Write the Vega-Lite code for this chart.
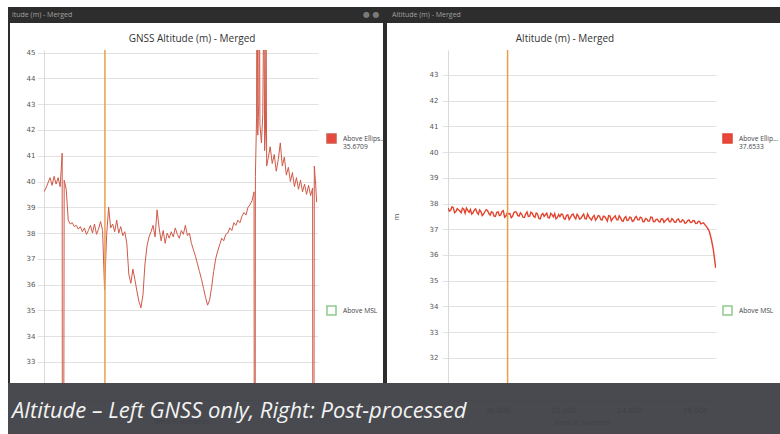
{
  "$schema": "https://vega.github.io/schema/vega-lite/v6.json",
  "padding": {"left": 8, "top": 7, "right": 0, "bottom": 0},
  "background": "white",
  "bounds": "flush",
  "spacing": 0,
  "columns": 8,
  "align": "each",
  "resolve": {"scale": {"color": "independent", "x": "independent", "y": "independent"}, "legend": {"color": "independent"}},
  "config": {"view": {"stroke": null}, "concat": {"spacing": 0}},
  "datasets": {
    "left": [
      {"t":18500,"a":39.6,"s":"E"},{"t":18560,"a":39.75,"s":"E"},{"t":18620,"a":39.95,"s":"E"},{"t":18680,"a":40.15,"s":"E"},{"t":18740,"a":39.85,"s":"E"},{"t":18800,"a":40.2,"s":"E"},{"t":18860,"a":39.9,"s":"E"},{"t":18920,"a":40.15,"s":"E"},{"t":18980,"a":39.8,"s":"E"},{"t":19040,"a":41.1,"s":"E"},{"t":19055,"a":5,"s":"E"},{"t":19100,"a":40.05,"s":"E"},{"t":19160,"a":39.7,"s":"E"},{"t":19220,"a":38.5,"s":"E"},{"t":19280,"a":38.35,"s":"E"},{"t":19340,"a":38.4,"s":"E"},{"t":19400,"a":38.25,"s":"E"},{"t":19460,"a":38.3,"s":"E"},{"t":19520,"a":38.15,"s":"E"},{"t":19580,"a":38.25,"s":"E"},{"t":19640,"a":38.05,"s":"E"},{"t":19700,"a":38.2,"s":"E"},{"t":19760,"a":37.95,"s":"E"},{"t":19820,"a":38.1,"s":"E"},{"t":19880,"a":38.3,"s":"E"},{"t":19940,"a":38.0,"s":"E"},{"t":20000,"a":38.35,"s":"E"},{"t":20060,"a":37.95,"s":"E"},{"t":20120,"a":38.15,"s":"E"},{"t":20180,"a":38.45,"s":"E"},{"t":20240,"a":38.1,"s":"E"},{"t":20300,"a":35.8,"s":"E"},{"t":20360,"a":37.9,"s":"E"},{"t":20420,"a":39.0,"s":"E"},{"t":20480,"a":38.2,"s":"E"},{"t":20540,"a":38.35,"s":"E"},{"t":20600,"a":38.05,"s":"E"},{"t":20660,"a":38.5,"s":"E"},{"t":20720,"a":38.0,"s":"E"},{"t":20780,"a":38.25,"s":"E"},{"t":20840,"a":37.9,"s":"E"},{"t":20900,"a":38.05,"s":"E"},{"t":20960,"a":37.6,"s":"E"},{"t":21020,"a":36.4,"s":"E"},{"t":21080,"a":36.05,"s":"E"},{"t":21140,"a":36.6,"s":"E"},{"t":21200,"a":36.2,"s":"E"},{"t":21260,"a":35.75,"s":"E"},{"t":21320,"a":35.35,"s":"E"},{"t":21380,"a":35.1,"s":"E"},{"t":21440,"a":35.6,"s":"E"},{"t":21500,"a":36.8,"s":"E"},{"t":21560,"a":37.5,"s":"E"},{"t":21620,"a":37.85,"s":"E"},{"t":21680,"a":38.05,"s":"E"},{"t":21740,"a":38.3,"s":"E"},{"t":21800,"a":37.85,"s":"E"},{"t":21860,"a":38.9,"s":"E"},{"t":21920,"a":38.2,"s":"E"},{"t":21980,"a":37.7,"s":"E"},{"t":22040,"a":38.1,"s":"E"},{"t":22100,"a":37.6,"s":"E"},{"t":22160,"a":38.0,"s":"E"},{"t":22220,"a":37.8,"s":"E"},{"t":22280,"a":38.05,"s":"E"},{"t":22340,"a":37.85,"s":"E"},{"t":22400,"a":38.2,"s":"E"},{"t":22460,"a":37.95,"s":"E"},{"t":22520,"a":37.8,"s":"E"},{"t":22580,"a":38.1,"s":"E"},{"t":22640,"a":37.95,"s":"E"},{"t":22700,"a":38.3,"s":"E"},{"t":22760,"a":37.9,"s":"E"},{"t":22820,"a":38.0,"s":"E"},{"t":22880,"a":37.6,"s":"E"},{"t":22940,"a":37.35,"s":"E"},{"t":23000,"a":37.1,"s":"E"},{"t":23060,"a":36.8,"s":"E"},{"t":23120,"a":36.5,"s":"E"},{"t":23180,"a":36.2,"s":"E"},{"t":23240,"a":35.85,"s":"E"},{"t":23300,"a":35.5,"s":"E"},{"t":23360,"a":35.2,"s":"E"},{"t":23420,"a":35.4,"s":"E"},{"t":23480,"a":35.9,"s":"E"},{"t":23540,"a":36.5,"s":"E"},{"t":23600,"a":37.0,"s":"E"},{"t":23660,"a":37.3,"s":"E"},{"t":23720,"a":37.55,"s":"E"},{"t":23780,"a":37.8,"s":"E"},{"t":23840,"a":37.7,"s":"E"},{"t":23900,"a":37.95,"s":"E"},{"t":23960,"a":38.0,"s":"E"},{"t":24020,"a":38.2,"s":"E"},{"t":24080,"a":38.1,"s":"E"},{"t":24140,"a":38.4,"s":"E"},{"t":24200,"a":38.3,"s":"E"},{"t":24260,"a":38.5,"s":"E"},{"t":24320,"a":38.4,"s":"E"},{"t":24380,"a":38.65,"s":"E"},{"t":24440,"a":38.8,"s":"E"},{"t":24500,"a":38.7,"s":"E"},{"t":24560,"a":39.0,"s":"E"},{"t":24620,"a":39.1,"s":"E"},{"t":24680,"a":39.25,"s":"E"},{"t":24740,"a":39.6,"s":"E"},{"t":24760,"a":8,"s":"E"},{"t":24780,"a":40.2,"s":"E"},{"t":24815,"a":42.5,"s":"E"},{"t":24830,"a":52,"s":"E"},{"t":24850,"a":41.8,"s":"E"},{"t":24880,"a":43.0,"s":"E"},{"t":24895,"a":50,"s":"E"},{"t":24915,"a":42.2,"s":"E"},{"t":24960,"a":41.5,"s":"E"},{"t":25000,"a":42.6,"s":"E"},{"t":25035,"a":48,"s":"E"},{"t":25055,"a":41.2,"s":"E"},{"t":25080,"a":42.0,"s":"E"},{"t":25095,"a":47,"s":"E"},{"t":25115,"a":40.6,"s":"E"},{"t":25160,"a":40.9,"s":"E"},{"t":25220,"a":41.35,"s":"E"},{"t":25280,"a":40.7,"s":"E"},{"t":25340,"a":41.05,"s":"E"},{"t":25400,"a":40.4,"s":"E"},{"t":25460,"a":40.85,"s":"E"},{"t":25520,"a":41.5,"s":"E"},{"t":25580,"a":40.6,"s":"E"},{"t":25640,"a":40.95,"s":"E"},{"t":25700,"a":40.25,"s":"E"},{"t":25760,"a":40.55,"s":"E"},{"t":25820,"a":40.0,"s":"E"},{"t":25880,"a":40.35,"s":"E"},{"t":25940,"a":39.8,"s":"E"},{"t":26000,"a":40.15,"s":"E"},{"t":26060,"a":39.7,"s":"E"},{"t":26120,"a":40.05,"s":"E"},{"t":26180,"a":39.6,"s":"E"},{"t":26240,"a":39.9,"s":"E"},{"t":26300,"a":39.5,"s":"E"},{"t":26360,"a":39.85,"s":"E"},{"t":26420,"a":39.45,"s":"E"},{"t":26480,"a":39.75,"s":"E"},{"t":26500,"a":5,"s":"E"},{"t":26530,"a":40.6,"s":"E"},{"t":26570,"a":39.9,"s":"E"},{"t":26600,"a":39.2,"s":"E"}
    ],
    "right": [
      {"t":18500,"a":37.83,"s":"E"},{"t":18580,"a":37.74,"s":"E"},{"t":18660,"a":37.84,"s":"E"},{"t":18740,"a":37.69,"s":"E"},{"t":18820,"a":37.76,"s":"E"},{"t":18900,"a":37.64,"s":"E"},{"t":18980,"a":37.78,"s":"E"},{"t":19060,"a":37.82,"s":"E"},{"t":19140,"a":37.66,"s":"E"},{"t":19220,"a":37.59,"s":"E"},{"t":19300,"a":37.75,"s":"E"},{"t":19380,"a":37.65,"s":"E"},{"t":19460,"a":37.75,"s":"E"},{"t":19540,"a":37.53,"s":"E"},{"t":19620,"a":37.68,"s":"E"},{"t":19700,"a":37.73,"s":"E"},{"t":19780,"a":37.55,"s":"E"},{"t":19860,"a":37.65,"s":"E"},{"t":19940,"a":37.5,"s":"E"},{"t":20020,"a":37.68,"s":"E"},{"t":20100,"a":37.55,"s":"E"},{"t":20180,"a":37.72,"s":"E"},{"t":20260,"a":37.51,"s":"E"},{"t":20340,"a":37.6,"s":"E"},{"t":20420,"a":37.45,"s":"E"},{"t":20500,"a":37.64,"s":"E"},{"t":20580,"a":37.66,"s":"E"},{"t":20660,"a":37.51,"s":"E"},{"t":20740,"a":37.58,"s":"E"},{"t":20820,"a":37.46,"s":"E"},{"t":20900,"a":37.67,"s":"E"},{"t":20980,"a":37.51,"s":"E"},{"t":21060,"a":37.62,"s":"E"},{"t":21140,"a":37.46,"s":"E"},{"t":21220,"a":37.59,"s":"E"},{"t":21300,"a":37.4,"s":"E"},{"t":21380,"a":37.61,"s":"E"},{"t":21460,"a":37.56,"s":"E"},{"t":21540,"a":37.45,"s":"E"},{"t":21620,"a":37.62,"s":"E"},{"t":21700,"a":37.48,"s":"E"},{"t":21780,"a":37.4,"s":"E"},{"t":21860,"a":37.57,"s":"E"},{"t":21940,"a":37.59,"s":"E"},{"t":22020,"a":37.42,"s":"E"},{"t":22100,"a":37.54,"s":"E"},{"t":22180,"a":37.38,"s":"E"},{"t":22260,"a":37.56,"s":"E"},{"t":22340,"a":37.47,"s":"E"},{"t":22420,"a":37.58,"s":"E"},{"t":22500,"a":37.39,"s":"E"},{"t":22580,"a":37.52,"s":"E"},{"t":22660,"a":37.41,"s":"E"},{"t":22740,"a":37.59,"s":"E"},{"t":22820,"a":37.42,"s":"E"},{"t":22900,"a":37.48,"s":"E"},{"t":22980,"a":37.35,"s":"E"},{"t":23060,"a":37.53,"s":"E"},{"t":23140,"a":37.38,"s":"E"},{"t":23220,"a":37.51,"s":"E"},{"t":23300,"a":37.41,"s":"E"},{"t":23380,"a":37.53,"s":"E"},{"t":23460,"a":37.32,"s":"E"},{"t":23540,"a":37.47,"s":"E"},{"t":23620,"a":37.37,"s":"E"},{"t":23700,"a":37.52,"s":"E"},{"t":23780,"a":37.33,"s":"E"},{"t":23860,"a":37.44,"s":"E"},{"t":23940,"a":37.34,"s":"E"},{"t":24020,"a":37.47,"s":"E"},{"t":24100,"a":37.3,"s":"E"},{"t":24180,"a":37.45,"s":"E"},{"t":24260,"a":37.37,"s":"E"},{"t":24340,"a":37.47,"s":"E"},{"t":24420,"a":37.29,"s":"E"},{"t":24500,"a":37.42,"s":"E"},{"t":24580,"a":37.31,"s":"E"},{"t":24660,"a":37.47,"s":"E"},{"t":24740,"a":37.29,"s":"E"},{"t":24820,"a":37.38,"s":"E"},{"t":24900,"a":37.3,"s":"E"},{"t":24980,"a":37.41,"s":"E"},{"t":25060,"a":37.27,"s":"E"},{"t":25140,"a":37.38,"s":"E"},{"t":25220,"a":37.3,"s":"E"},{"t":25300,"a":37.41,"s":"E"},{"t":25380,"a":37.27,"s":"E"},{"t":25460,"a":37.38,"s":"E"},{"t":25540,"a":37.29,"s":"E"},{"t":25620,"a":37.37,"s":"E"},{"t":25700,"a":37.23,"s":"E"},{"t":25780,"a":37.34,"s":"E"},{"t":25860,"a":37.27,"s":"E"},{"t":25940,"a":37.34,"s":"E"},{"t":26020,"a":37.22,"s":"E"},{"t":26100,"a":37.3,"s":"E"},{"t":26180,"a":37.21,"s":"E"},{"t":26260,"a":37.25,"s":"E"},{"t":26320,"a":37.15,"s":"E"},{"t":26380,"a":37.05,"s":"E"},{"t":26440,"a":36.9,"s":"E"},{"t":26500,"a":36.6,"s":"E"},{"t":26560,"a":36.2,"s":"E"},{"t":26600,"a":35.8,"s":"E"},{"t":26630,"a":35.5,"s":"E"},
      {"t":18540,"a":37.7,"s":"E"},{"t":18620,"a":37.87,"s":"E"},{"t":18700,"a":37.64,"s":"E"},{"t":18780,"a":37.8,"s":"E"},{"t":18860,"a":37.71,"s":"E"},{"t":18940,"a":37.82,"s":"E"},{"t":19020,"a":37.62,"s":"E"},{"t":19100,"a":37.73,"s":"E"},{"t":19180,"a":37.77,"s":"E"},{"t":19260,"a":37.64,"s":"E"},{"t":19340,"a":37.79,"s":"E"},{"t":19420,"a":37.58,"s":"E"},{"t":19500,"a":37.69,"s":"E"},{"t":19580,"a":37.59,"s":"E"},{"t":19660,"a":37.76,"s":"E"},{"t":19740,"a":37.61,"s":"E"},{"t":19820,"a":37.68,"s":"E"},{"t":19900,"a":37.51,"s":"E"},{"t":19980,"a":37.65,"s":"E"},{"t":20060,"a":37.53,"s":"E"},{"t":20140,"a":37.69,"s":"E"},{"t":20220,"a":37.47,"s":"E"},{"t":20300,"a":37.64,"s":"E"},{"t":20380,"a":37.61,"s":"E"},{"t":20460,"a":37.5,"s":"E"},{"t":20540,"a":37.68,"s":"E"},{"t":20620,"a":37.53,"s":"E"},{"t":20700,"a":37.64,"s":"E"},{"t":20780,"a":37.46,"s":"E"},{"t":20860,"a":37.59,"s":"E"},{"t":20940,"a":37.5,"s":"E"},{"t":21020,"a":37.66,"s":"E"},{"t":21100,"a":37.5,"s":"E"},{"t":21180,"a":37.63,"s":"E"},{"t":21260,"a":37.42,"s":"E"},{"t":21340,"a":37.56,"s":"E"},{"t":21420,"a":37.5,"s":"E"},{"t":21500,"a":37.62,"s":"E"},{"t":21580,"a":37.44,"s":"E"},{"t":21660,"a":37.57,"s":"E"},{"t":21740,"a":37.61,"s":"E"},{"t":21820,"a":37.45,"s":"E"},{"t":21900,"a":37.49,"s":"E"},{"t":21980,"a":37.58,"s":"E"},{"t":22060,"a":37.39,"s":"E"},{"t":22140,"a":37.56,"s":"E"},{"t":22220,"a":37.46,"s":"E"},{"t":22300,"a":37.59,"s":"E"},{"t":22380,"a":37.4,"s":"E"},{"t":22460,"a":37.51,"s":"E"},{"t":22540,"a":37.43,"s":"E"},{"t":22620,"a":37.59,"s":"E"},{"t":22700,"a":37.4,"s":"E"},{"t":22780,"a":37.48,"s":"E"},{"t":22860,"a":37.36,"s":"E"},{"t":22940,"a":37.54,"s":"E"},{"t":23020,"a":37.42,"s":"E"},{"t":23100,"a":37.51,"s":"E"},{"t":23180,"a":37.36,"s":"E"},{"t":23260,"a":37.49,"s":"E"},{"t":23340,"a":37.32,"s":"E"},{"t":23420,"a":37.51,"s":"E"},{"t":23500,"a":37.41,"s":"E"},{"t":23580,"a":37.52,"s":"E"},{"t":23660,"a":37.36,"s":"E"},{"t":23740,"a":37.45,"s":"E"},{"t":23820,"a":37.31,"s":"E"},{"t":23900,"a":37.49,"s":"E"},{"t":23980,"a":37.36,"s":"E"},{"t":24060,"a":37.45,"s":"E"},{"t":24140,"a":37.33,"s":"E"},{"t":24220,"a":37.5,"s":"E"},{"t":24300,"a":37.36,"s":"E"},{"t":24380,"a":37.45,"s":"E"},{"t":24460,"a":37.3,"s":"E"},{"t":24540,"a":37.4,"s":"E"},{"t":24620,"a":37.32,"s":"E"},{"t":24700,"a":37.46,"s":"E"},{"t":24780,"a":37.3,"s":"E"},{"t":24860,"a":37.39,"s":"E"},{"t":24940,"a":37.28,"s":"E"},{"t":25020,"a":37.4,"s":"E"},{"t":25100,"a":37.33,"s":"E"},{"t":25180,"a":37.43,"s":"E"},{"t":25260,"a":37.29,"s":"E"},{"t":25340,"a":37.37,"s":"E"},{"t":25420,"a":37.27,"s":"E"},{"t":25500,"a":37.4,"s":"E"},{"t":25580,"a":37.28,"s":"E"},{"t":25660,"a":37.33,"s":"E"},{"t":25740,"a":37.25,"s":"E"},{"t":25820,"a":37.36,"s":"E"},{"t":25900,"a":37.26,"s":"E"},{"t":25980,"a":37.33,"s":"E"},{"t":26060,"a":37.23,"s":"E"},{"t":26140,"a":37.3,"s":"E"},{"t":26220,"a":37.23,"s":"E"}
    ],
    "cur": [{"t": 20310}],
    "blank": [{"a": 0}]
  },
  "concat": [
    {"width": 2, "height": 16, "view": {"fill": "#2d2d2d", "stroke": null}, "data": {"name": "blank"}, "mark": {"type": "text", "text": ""}},
    {"width": 34, "height": 16, "view": {"fill": "#2d2d2d", "stroke": null}, "data": {"name": "blank"}, "mark": {"type": "text", "text": ""}},
    {
      "width": 274, "height": 16, "view": {"fill": "#2d2d2d", "stroke": null},
      "data": {"values": [{"label": "itude (m) - Merged"}]},
      "mark": {"type": "text", "align": "left", "baseline": "middle", "fontSize": 7, "font": "Open Sans", "color": "#a0a0a0"},
      "encoding": {"text": {"field": "label"}, "x": {"value": -32}, "y": {"value": 8}}
    },
    {
      "width": 65, "height": 16, "view": {"fill": "#2d2d2d", "stroke": null},
      "data": {"values": [{"icons": "● ●"}]},
      "mark": {"type": "text", "align": "left", "baseline": "middle", "fontSize": 8, "font": "DejaVu Sans", "color": "#7a7a7a"},
      "encoding": {"text": {"field": "icons"}, "x": {"value": 45}, "y": {"value": 8}}
    },
    {"width": 4, "height": 16, "view": {"fill": "#2d2d2d", "stroke": null}, "data": {"name": "blank"}, "mark": {"type": "text", "text": ""}},
    {"width": 61, "height": 16, "view": {"fill": "#2d2d2d", "stroke": null}, "data": {"name": "blank"}, "mark": {"type": "text", "text": ""}},
    {
      "width": 268, "height": 16, "view": {"fill": "#2d2d2d", "stroke": null},
      "data": {"values": [{"label": "Altitude (m) - Merged"}]},
      "mark": {"type": "text", "align": "left", "baseline": "middle", "fontSize": 7, "font": "Open Sans", "color": "#a0a0a0"},
      "encoding": {"text": {"field": "label"}, "x": {"value": -56}, "y": {"value": 8}}
    },
    {"width": 64, "height": 16, "view": {"fill": "#2d2d2d", "stroke": null}, "data": {"name": "blank"}, "mark": {"type": "text", "text": ""}},

    {"width": 2, "height": 27, "view": {"fill": "#2d2d2d", "stroke": null}, "data": {"name": "blank"}, "mark": {"type": "text", "text": ""}},
    {"width": 34, "height": 27, "data": {"name": "blank"}, "mark": {"type": "text", "text": ""}},
    {"width": 274, "height": 27, "data": {"name": "blank"}, "mark": {"type": "text", "text": ""}},
    {"width": 65, "height": 27, "data": {"name": "blank"}, "mark": {"type": "text", "text": ""}},
    {"width": 4, "height": 27, "view": {"fill": "#2d2d2d", "stroke": null}, "data": {"name": "blank"}, "mark": {"type": "text", "text": ""}},
    {"width": 61, "height": 27, "data": {"name": "blank"}, "mark": {"type": "text", "text": ""}},
    {"width": 268, "height": 27, "data": {"name": "blank"}, "mark": {"type": "text", "text": ""}},
    {"width": 64, "height": 27, "data": {"name": "blank"}, "mark": {"type": "text", "text": ""}},

    {"width": 2, "height": 333, "view": {"fill": "#2d2d2d", "stroke": null}, "data": {"name": "blank"}, "mark": {"type": "text", "text": ""}},
    {"width": 34, "height": 333, "data": {"name": "blank"}, "mark": {"type": "text", "text": ""}},
    {
      "width": 274, "height": 333,
      "title": {"text": "GNSS Altitude (m) - Merged", "fontSize": 10, "font": "Open Sans", "fontWeight": "normal", "color": "#333333", "offset": 5, "dx": 11},
      "layer": [
        {
          "data": {"name": "left"},
          "mark": {"type": "line", "clip": true, "strokeWidth": 1},
          "encoding": {
            "x": {"field": "t", "type": "quantitative", "scale": {"domain": [18500, 26640], "nice": false, "zero": false},
              "axis": {"values": [20000, 22000, 24000, 26000], "labels": false, "offset": 17, "grid": false, "ticks": false, "domainColor": "#d9d9d9", "title": "time in seconds", "titleFontSize": 7, "titleFontWeight": "normal", "titleColor": "#7a7a7a", "titleFont": "DejaVu Sans", "titlePadding": 17}},
            "y": {"field": "a", "type": "quantitative", "scale": {"domain": [32.18, 45.105], "nice": false, "zero": false},
              "axis": {"values": [33, 34, 35, 36, 37, 38, 39, 40, 41, 42, 43, 44, 45], "title": null, "grid": true, "gridColor": "#e2e2e2", "domainColor": "#d9d9d9", "tickColor": "#e2e2e2", "tickSize": 7, "labelPadding": 2, "labelFontSize": 7, "labelColor": "#555555", "labelFont": "DejaVu Sans"}},
            "color": {"field": "s", "type": "nominal", "scale": {"domain": ["E", "M"], "range": ["#cf5a48", "#8fca8c"]},
              "legend": {"orient": "none", "legendX": 282, "legendY": 83, "title": null, "padding": 0, "symbolType": "square", "symbolSize": 81, "symbolStrokeWidth": 1.5, "labelFontSize": 6.7, "labelFont": "Open Sans", "labelColor": "#444444", "labelOffset": 6, "labelLimit": 44, "rowPadding": 152,
                "labelExpr": "datum.label == 'E' ? ['Above Ellipsoid', '35.6709'] : 'Above MSL'",
                "encode": {
                  "symbols": {"update": {"fill": [{"test": "datum.value === 'E'", "value": "#e8473b"}, {"value": "#ffffff"}], "stroke": [{"test": "datum.value === 'E'", "value": "#e8473b"}, {"value": "#92c98f"}]}}
                }}}
          }
        },
        {"data": {"name": "cur"}, "mark": {"type": "rule", "color": "#e9a04e", "strokeWidth": 1.5}, "encoding": {"x": {"field": "t", "type": "quantitative"}}}
      ]
    },
    {"width": 65, "height": 333, "data": {"name": "blank"}, "mark": {"type": "text", "text": ""}},
    {"width": 4, "height": 333, "view": {"fill": "#2d2d2d", "stroke": null}, "data": {"name": "blank"}, "mark": {"type": "text", "text": ""}},
    {"width": 61, "height": 333, "data": {"name": "blank"}, "mark": {"type": "text", "text": ""}},
    {
      "width": 268, "height": 333,
      "title": {"text": "Altitude (m) - Merged", "fontSize": 10, "font": "Open Sans", "fontWeight": "normal", "color": "#333333", "offset": 5, "dx": -17},
      "layer": [
        {
          "data": {"name": "right"},
          "mark": {"type": "line", "clip": true, "strokeWidth": 1.4},
          "encoding": {
            "x": {"field": "t", "type": "quantitative", "scale": {"domain": [18500, 26640], "nice": false, "zero": false},
              "axis": {"values": [20000, 22000, 24000, 26000], "format": ",d", "offset": 17, "grid": false, "ticks": false, "domainColor": "#d9d9d9", "labelFontSize": 7, "labelColor": "#7a7a7a", "labelFont": "DejaVu Sans", "labelPadding": 6, "title": "time in seconds", "titleFontSize": 7, "titleFontWeight": "normal", "titleColor": "#7a7a7a", "titleFont": "DejaVu Sans", "titlePadding": 5}},
            "y": {"field": "a", "type": "quantitative", "scale": {"domain": [31.02, 43.97], "nice": false, "zero": false},
              "axis": {"values": [32, 33, 34, 35, 36, 37, 38, 39, 40, 41, 42, 43], "title": "m", "titleFontSize": 7, "titleFontWeight": "normal", "titleColor": "#555555", "titleFont": "DejaVu Sans", "titlePadding": 30, "grid": true, "gridColor": "#e2e2e2", "domainColor": "#d9d9d9", "tickColor": "#e2e2e2", "tickSize": 6, "labelPadding": 4, "labelFontSize": 7, "labelColor": "#555555", "labelFont": "DejaVu Sans"}},
            "color": {"field": "s", "type": "nominal", "scale": {"domain": ["E", "M"], "range": ["#e2452f", "#8fca8c"]},
              "legend": {"orient": "none", "legendX": 274, "legendY": 83, "title": null, "padding": 0, "symbolType": "square", "symbolSize": 81, "symbolStrokeWidth": 1.5, "labelFontSize": 6.7, "labelFont": "Open Sans", "labelColor": "#444444", "labelOffset": 6, "labelLimit": 40, "rowPadding": 152,
                "labelExpr": "datum.label == 'E' ? ['Above Ellipsoid', '37.6533'] : 'Above MSL'",
                "encode": {
                  "symbols": {"update": {"fill": [{"test": "datum.value === 'E'", "value": "#e8473b"}, {"value": "#ffffff"}], "stroke": [{"test": "datum.value === 'E'", "value": "#e8473b"}, {"value": "#92c98f"}]}}
                }}}
          }
        },
        {"data": {"name": "cur"}, "mark": {"type": "rule", "color": "#e9a04e", "strokeWidth": 1.5}, "encoding": {"x": {"field": "t", "type": "quantitative"}}}
      ]
    },
    {"width": 64, "height": 333, "data": {"name": "blank"}, "mark": {"type": "text", "text": ""}},

    {"width": 2, "height": 51, "view": {"fill": "#3a3c42", "fillOpacity": 0.93, "stroke": null}, "data": {"name": "blank"}, "mark": {"type": "text", "text": ""}},
    {"width": 34, "height": 51, "view": {"fill": "#3a3c42", "fillOpacity": 0.93, "stroke": null}, "data": {"name": "blank"}, "mark": {"type": "text", "text": ""}},
    {"width": 274, "height": 51, "view": {"fill": "#3a3c42", "fillOpacity": 0.93, "stroke": null}, "data": {"name": "blank"}, "mark": {"type": "text", "text": ""}},
    {"width": 65, "height": 51, "view": {"fill": "#3a3c42", "fillOpacity": 0.93, "stroke": null}, "data": {"name": "blank"}, "mark": {"type": "text", "text": ""}},
    {"width": 4, "height": 51, "view": {"fill": "#3a3c42", "fillOpacity": 0.93, "stroke": null}, "data": {"name": "blank"}, "mark": {"type": "text", "text": ""}},
    {"width": 61, "height": 51, "view": {"fill": "#3a3c42", "fillOpacity": 0.93, "stroke": null}, "data": {"name": "blank"}, "mark": {"type": "text", "text": ""}},
    {
      "width": 268, "height": 51,
      "view": {"fill": "#3a3c42", "fillOpacity": 0.93, "stroke": null},
      "data": {"values": [{"caption": "Altitude – Left GNSS only, Right: Post-processed"}]},
      "mark": {"type": "text", "align": "left", "baseline": "alphabetic", "font": "Open Sans", "fontStyle": "italic", "fontSize": 22, "color": "#f2f2f2"},
      "encoding": {"text": {"field": "caption"}, "x": {"value": -436}, "y": {"value": 35}}
    },
    {"width": 64, "height": 51, "view": {"fill": "#3a3c42", "fillOpacity": 0.93, "stroke": null}, "data": {"name": "blank"}, "mark": {"type": "text", "text": ""}}
  ]
}
